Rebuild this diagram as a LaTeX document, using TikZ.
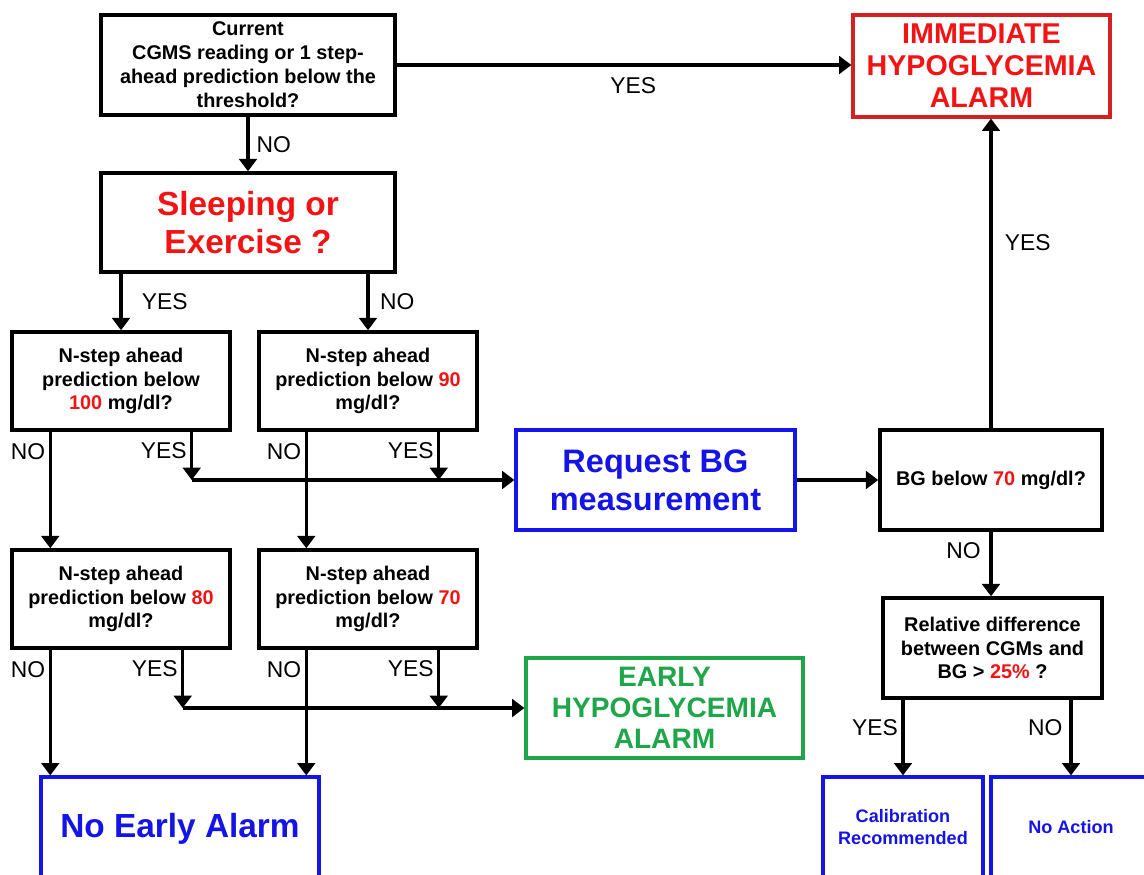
\documentclass[tikz,border=0pt]{standalone}
\usepackage{fontspec}
\setmainfont{Liberation Sans}
\usetikzlibrary{arrows.meta,calc}
\definecolor{boxred}{HTML}{D42020}
\definecolor{textred}{HTML}{F21414}
\definecolor{boxblue}{HTML}{1414E6}
\definecolor{boxgreen}{HTML}{1FA64A}
\tikzset{
  query/.style={draw, line width=2pt, align=center, inner sep=2pt, font=\bfseries\fontsize{11.3}{13.6}\selectfont},
  result/.style={draw=boxblue, text=boxblue, line width=1.8pt, align=center, inner sep=2pt},
  alarm/.style={line width=1.8pt, align=center, inner sep=2pt, font=\bfseries\fontsize{16.3}{18.2}\selectfont},
  flow/.style={line width=1.9pt, -{Triangle[width=10pt,length=7pt]}},
  lbl/.style={inner sep=1pt, font=\fontsize{13}{15}\selectfont},
}

\begin{document}
\begin{tikzpicture}[x=0.02cm, y=-0.02cm]
\useasboundingbox (0,0) rectangle (1144,875);
\fill[white] (0,0) rectangle (1144,875);
\clip (0,0) rectangle (1144,875);
\node[query, minimum width=5.88cm, minimum height=2cm] (cur) at (248,65) {Current\\CGMS reading or 1 step-\\ahead prediction below the\\threshold?};
\node[query, minimum width=5.88cm, minimum height=1.98cm, text=textred, font=\bfseries\fontsize{19}{21.6}\selectfont] (sleep) at (248,222.5) {Sleeping or\\Exercise ?};
\node[alarm, draw=boxred, text=textred, minimum width=5.14cm, minimum height=2.04cm] (imm) at (981.5,66) {IMMEDIATE\\HYPOGLYCEMIA\\ALARM};
\node[query, minimum width=4.36cm, minimum height=1.96cm] (qa) at (121,381) {N-step ahead\\prediction below\\{\color{textred}100} mg/dl?};
\node[query, minimum width=4.36cm, minimum height=1.96cm] (qb) at (368,381) {N-step ahead\\prediction below {\color{textred}90}\\mg/dl?};
\node[query, minimum width=4.36cm, minimum height=1.96cm] (qc) at (121,599) {N-step ahead\\prediction below {\color{textred}80}\\mg/dl?};
\node[query, minimum width=4.36cm, minimum height=1.96cm] (qd) at (368,599) {N-step ahead\\prediction below {\color{textred}70}\\mg/dl?};
\node[result, minimum width=5.58cm, minimum height=2cm, font=\bfseries\fontsize{18.5}{21.6}\selectfont] (req) at (655.5,480) {Request BG\\measurement};
\node[query, minimum width=4.44cm, minimum height=2cm] (bg) at (991,480) {BG below {\color{textred}70} mg/dl?};
\node[query, minimum width=4.38cm, minimum height=2cm] (rel) at (992.5,648) {Relative difference\\between CGMs and\\BG > {\color{textred}25\%} ?};
\node[alarm, draw=boxgreen, text=boxgreen, minimum width=5.54cm, minimum height=2cm, font=\bfseries\fontsize{16}{17.8}\selectfont] (early) at (664.5,708) {EARLY\\HYPOGLYCEMIA\\ALARM};
\node[result, minimum width=5.56cm, minimum height=2.08cm, font=\bfseries\fontsize{19}{21.6}\selectfont] (none) at (180,829) {No Early Alarm};
\node[result, minimum width=3.2cm, minimum height=2cm, font=\bfseries\fontsize{10.3}{13}\selectfont] (calib) at (903,827) {Calibration\\Recommended};
\node[result, minimum width=3.2cm, minimum height=2cm, font=\bfseries\fontsize{10.3}{13}\selectfont] (noact) at (1071,827) {No Action};

\draw[flow] (cur.east) -- (cur.east -| imm.west) node[lbl, pos=0.52, below=5pt] (l1) {YES};
\draw[flow] (cur) -- (sleep) node[lbl, pos=0.52, right=3pt] (l2) {NO};
\draw[flow] (sleep.south -| qa.north) -- (qa.north) node[lbl, midway, right=10pt] (l3) {YES};
\draw[flow] (sleep.south -| qb.north) -- (qb.north) node[lbl, midway, right=5pt] (l4) {NO};

\coordinate (na) at ($(qa.south west)+(40,0)$);
\coordinate (ya) at ($(qa.south east)+(-40,0)$);
\coordinate (nb) at ($(qb.south west)+(49,0)$);
\coordinate (yb) at ($(qb.south east)+(-40,0)$);
\coordinate (nc) at ($(qc.south west)+(40,0)$);
\coordinate (yc) at ($(qc.south east)+(-49,0)$);
\coordinate (nd) at ($(qd.south west)+(49,0)$);
\coordinate (yd) at ($(qd.south east)+(-40,0)$);

\draw[flow] (ya |- req.west) -- (req.west);
\draw[flow] (na) -- (na |- qc.north) node[lbl, pos=0.17, left=1pt] (l5) {NO};
\draw[flow] (ya) -- (ya |- req.west) node[lbl, pos=0.39, left=1pt] (l6) {YES};
\draw[flow] (nb) -- (nb |- qd.north) node[lbl, pos=0.17, left=1pt] (l7) {NO};
\draw[flow] (yb) -- (yb |- req.west) node[lbl, pos=0.39, left=1pt] (l8) {YES};

\draw[flow] (yc |- early.west) -- (early.west);
\draw[flow] (nc) -- (nc |- none.north) node[lbl, pos=0.155, left=1pt] (l9) {NO};
\draw[flow] (yc) -- (yc |- early.west) node[lbl, pos=0.33, left=1pt] (l10) {YES};
\draw[flow] (nd) -- (nd |- none.north) node[lbl, pos=0.155, left=1pt] (l11) {NO};
\draw[flow] (yd) -- (yd |- early.west) node[lbl, pos=0.33, left=1pt] (l12) {YES};

\draw[flow] (req.east) -- (bg.west);
\draw[flow] (bg.north) -- (bg.north |- imm.south) node[lbl, pos=0.6, right=6pt] (l13) {YES};
\draw[flow] (bg.south) -- (bg.south |- rel.north) node[lbl, pos=0.29, left=4pt] (l14) {NO};
\draw[flow] (calib.north |- rel.south) -- (calib.north) node[lbl, pos=0.37, left=1pt] (l15) {YES};
\draw[flow] (noact.north |- rel.south) -- (noact.north) node[lbl, pos=0.37, left=3pt] (l16) {NO};
\end{tikzpicture}
\end{document}
